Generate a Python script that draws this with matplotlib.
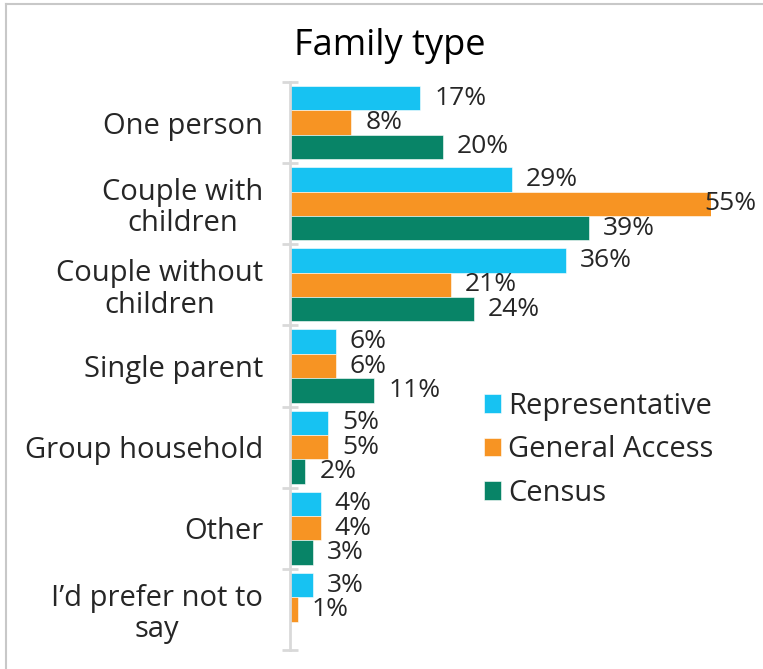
import numpy as np
import matplotlib
matplotlib.use("Agg")
import matplotlib.pyplot as plt
from matplotlib.lines import Line2D

plt.rcParams['font.family'] = ['Open Sans', 'DejaVu Sans']

categories = ["One person", "Couple with\nchildren", "Couple without\nchildren",
              "Single parent", "Group household", "Other", "I\u2019d prefer not to\nsay"]
series_names = ["Representative", "General Access", "Census"]
representative = [17, 29, 36, 6, 5, 4, 3]
general_access = [8, 55, 21, 6, 5, 4, 1]
census = [20, 39, 24, 11, 2, 3, None]

colors = ["#17C2F2", "#F79423", "#088467"]
series = [representative, general_access, census]

W, H = 763, 669
fig = plt.figure(figsize=(W / 100, H / 100), dpi=100)
ax = fig.add_axes([290 / W, 1 - 650 / H, (711 - 290) / W, (650 - 82) / H])

y = np.arange(len(categories))
bar_h = 0.30
xmax = 55
for i, (vals, col, name) in enumerate(zip(series, colors, series_names)):
    for j, v in enumerate(vals):
        if v is None:
            continue
        yy = y[j] + (i - 1) * bar_h
        ax.barh(yy, v, height=bar_h, color=col, edgecolor="white", linewidth=0.4,
                label=name if j == 0 else None)
        off = -7 if v + 6 > xmax else 14
        ax.annotate(f"{v}%", xy=(v, yy), xytext=(off * 0.72, 0), textcoords="offset points",
                    ha="left", va="center", fontsize=19, color="#262626",
                    annotation_clip=False)

ax.set_xlim(0, xmax)
ax.set_ylim(len(categories) - 0.5, -0.5)
ax.set_yticks(y)
ax.set_yticklabels(categories, fontsize=21, color="#262626", multialignment="center",
                   linespacing=1.1)
ax.set_yticks(np.arange(-0.5, len(categories)), minor=True)
ax.tick_params(axis="y", which="major", length=0, pad=27 * 0.72)
ax.tick_params(axis="y", which="minor", length=11, width=2, direction="inout",
               color="#D9D9D9")
ax.set_xticks([])
for s in ["top", "right", "bottom"]:
    ax.spines[s].set_visible(False)
ax.spines["left"].set_color("#D9D9D9")
ax.spines["left"].set_linewidth(2)

fig.text(390 / W, 1 - 46 / H, "Family type", fontsize=26, ha="center", va="center",
         color="black")

ax.legend(loc="upper left", bbox_to_anchor=(472 / W, 1 - 380 / H),
          bbox_transform=fig.transFigure, frameon=False, fontsize=21,
          handlelength=0.6, handleheight=0.6, handletextpad=0.25, labelspacing=0.5,
          labelcolor="#262626", borderaxespad=0)

# thin grey frame on top and left
fig.add_artist(Line2D([6 / W, 6 / W], [0, 1 - 4 / H], color="#C8C8C8", linewidth=1.5))
fig.add_artist(Line2D([6 / W, 1], [1 - 4 / H, 1 - 4 / H], color="#C8C8C8", linewidth=1.5))

fig.savefig("out.png", dpi=100)
